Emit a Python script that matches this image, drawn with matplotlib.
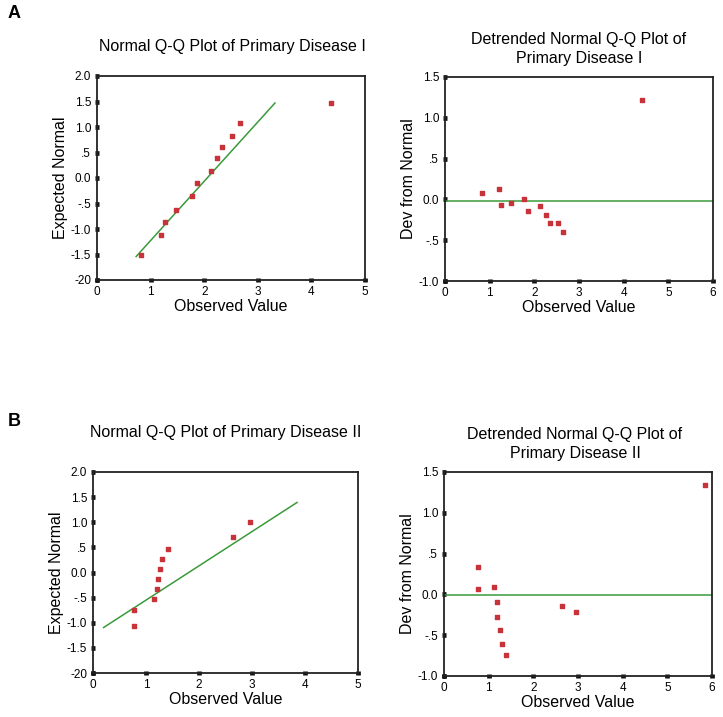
import matplotlib
matplotlib.use('Agg')
import matplotlib.pyplot as plt

plt.rcParams['font.family'] = ['Liberation Sans', 'DejaVu Sans']

# Panel A (Primary Disease I)
a_obs = [0.83, 1.19, 1.26, 1.48, 1.77, 1.86, 2.12, 2.24, 2.33, 2.52, 2.66, 4.37]
a_exp = [-1.51, -1.12, -0.865, -0.63, -0.35, -0.095, 0.147, 0.40, 0.60, 0.825, 1.08, 1.465]
a_line_x = [0.73, 3.32]
a_line_y = [-1.54, 1.47]
a_det_obs = [0.82, 1.20, 1.26, 1.48, 1.77, 1.85, 2.13, 2.25, 2.36, 2.53, 2.65, 4.40]
a_det_dev = [0.074, 0.123, -0.065, -0.04, 0.005, -0.142, -0.085, -0.187, -0.293, -0.293, -0.40, 1.214]
a_det_ref = -0.015

# Panel B (Primary Disease II)
b_obs = [0.77, 0.77, 1.15, 1.20, 1.22, 1.27, 1.31, 1.41, 2.65, 2.96]
b_exp = [-1.055, -0.75, -0.52, -0.32, -0.12, 0.07, 0.27, 0.476, 0.71, 1.0]
b_line_x = [0.20, 3.85]
b_line_y = [-1.095, 1.394]
b_det_obs = [0.75, 0.75, 1.13, 1.18, 1.18, 1.26, 1.30, 1.38, 2.64, 2.95, 5.84]
b_det_dev = [0.338, 0.067, 0.087, -0.088, -0.28, -0.435, -0.603, -0.742, -0.14, -0.21, 1.336]
b_det_ref = -0.006

qq_yticks = [-2.0, -1.5, -1.0, -0.5, 0.0, 0.5, 1.0, 1.5, 2.0]
qq_ylabels = ['-20', '-1.5', '-1.0', '-.5', '0.0', '.5', '1.0', '1.5', '2.0']
det_yticks = [-1.0, -0.5, 0.0, 0.5, 1.0, 1.5]
det_ylabels = ['-1.0', '-.5', '0.0', '.5', '1.0', '1.5']

W, H = 723, 717
RED = '#c8333a'
GREEN = '#3a9a3a'

fig = plt.figure(figsize=(W / 100, H / 100), dpi=100)


def px_axes(left, right, top, bottom):
    return fig.add_axes([left / W, 1 - bottom / H, (right - left) / W, (bottom - top) / H])


def style(ax, xmax, ymin, ymax, yticks, ylabels, ylabel):
    ax.set_xlim(0, xmax)
    ax.set_ylim(ymin, ymax)
    ax.set_xticks(range(xmax + 1))
    ax.set_yticks(yticks)
    ax.set_yticklabels(ylabels)
    for s in ax.spines.values():
        s.set_linewidth(1.3)
        s.set_color('#222222')
    # square tick marks sitting on the axis line
    ax.tick_params(direction='inout', length=3.4, width=3.4, labelsize=8.5, pad=2.5, color='#111111')
    ax.set_xlabel('Observed Value', fontsize=11.5, labelpad=1)
    ax.set_ylabel(ylabel, fontsize=11.5, labelpad=2)


# A: normal Q-Q
ax = px_axes(97, 365, 76, 280)
ax.plot(a_line_x, a_line_y, color=GREEN, lw=1.1)
ax.scatter(a_obs, a_exp, marker='s', s=5, color=RED, zorder=3)
style(ax, 5, -2.0, 2.0, qq_yticks, qq_ylabels, 'Expected Normal')
fig.text(232 / W, 1 - 47 / H, 'Normal Q-Q Plot of Primary Disease I', ha='center', va='center', fontsize=11.5)

# A: detrended
ax = px_axes(445, 713, 77, 281)
ax.axhline(a_det_ref, color=GREEN, lw=1.1)
ax.scatter(a_det_obs, a_det_dev, marker='s', s=5, color=RED, zorder=3)
style(ax, 6, -1.0, 1.5, det_yticks, det_ylabels, 'Dev from Normal')
fig.text(579 / W, 1 - 49 / H, 'Detrended Normal Q-Q Plot of\nPrimary Disease I', ha='center', va='center',
         fontsize=11.5, linespacing=1.4)

# B: normal Q-Q
ax = px_axes(93, 358, 472, 673)
ax.plot(b_line_x, b_line_y, color=GREEN, lw=1.1)
ax.scatter(b_obs, b_exp, marker='s', s=5, color=RED, zorder=3)
style(ax, 5, -2.0, 2.0, qq_yticks, qq_ylabels, 'Expected Normal')
fig.text(226 / W, 1 - 433 / H, 'Normal Q-Q Plot of Primary Disease II', ha='center', va='center', fontsize=11.5)

# B: detrended
ax = px_axes(444, 712, 472, 676)
ax.axhline(b_det_ref, color=GREEN, lw=1.1)
ax.scatter(b_det_obs, b_det_dev, marker='s', s=5, color=RED, zorder=3)
style(ax, 6, -1.0, 1.5, det_yticks, det_ylabels, 'Dev from Normal')
fig.text(575 / W, 1 - 444 / H, 'Detrended Normal Q-Q Plot of\nPrimary Disease II', ha='center', va='center',
         fontsize=11.5, linespacing=1.4)

fig.text(8 / W, 1 - 14 / H, 'A', fontsize=13, fontweight='bold', va='center')
fig.text(8 / W, 1 - 422 / H, 'B', fontsize=13, fontweight='bold', va='center')

fig.savefig('out.png', dpi=100)
